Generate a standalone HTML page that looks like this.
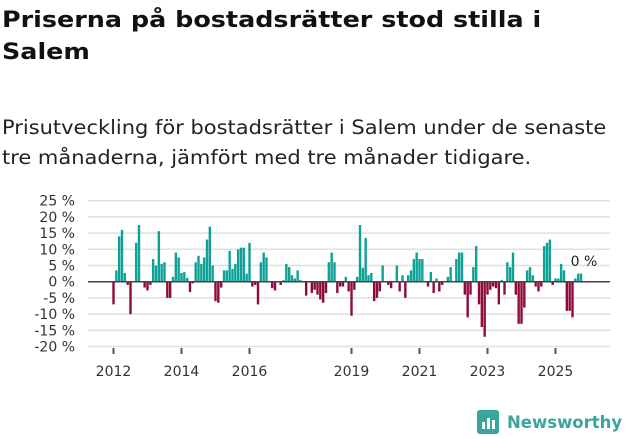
<!DOCTYPE html>
<html><head><meta charset="utf-8"><style>
body{margin:0;width:631px;height:439px;background:#fff;font-family:"DejaVu Sans",sans-serif;overflow:hidden;position:relative}
h1{position:absolute;left:2px;top:4px;margin:0;font-size:22.5px;line-height:32px;font-weight:bold;color:#111;white-space:nowrap;transform:scaleX(1.13);transform-origin:0 0}
.sub{position:absolute;left:2px;top:113px;margin:0;font-size:19.5px;line-height:30px;color:#222;white-space:nowrap;transform:scaleX(1.075);transform-origin:0 0}
svg{position:absolute;left:0;top:0}
</style></head><body>
<h1>Priserna på bostadsrätter stod stilla i<br>Salem</h1>
<p class="sub">Prisutveckling för bostadsrätter i Salem under de senaste<br>tre månaderna, jämfört med tre månader tidigare.</p>
<svg id="c" width="631" height="439"></svg>
<script>
const values=[-7,3.5,14,16,2.7,-1,-10,0,12,17.5,0,-1.8,-2.7,-1,7,5,15.6,5.5,6,-5,-5,1.5,9,7.5,2.7,3,1.2,-3.2,-0.5,6,8,5.5,7.5,13,17,5,-6,-6.5,-1.8,3.5,3.5,9.5,4,5.5,10,10.5,10.5,2.5,12,-1.5,-1,-7,6,9,7.5,
0,-2,-2.7,0,-1,0.5,5.5,4.5,2,1,3.5,0.5,0,-4.3,0,-3.5,-2.5,-4,-5.5,-6.5,-3.5,6,9,6,-3.5,-1.5,-1.5,1.5,-3,-10.5,-2.5,1.5,17.5,4.3,13.5,2,2.7,-6,-5,-3,5,0,-1,-2,0,5,-3,2,-5,2,3.5,7,9,7,7,0,-1.5,3,-3.5,1,-3,
-1,0,1.5,4.5,0,7,9,9,-4,-11,-4,4.5,11,-7,-14,-17,-4,-2.5,-1.5,-2,-7,0.5,-4,6,4.5,9,-4,-13,-13,-8,3.5,4.5,2,-1.5,-3,-1.5,11,12,13,-1,1,1,5.5,3.5,-9,-9,-11,1,2.5,2.5];
const startYear=2012;
const yTicks=[25,20,15,10,5,0,-5,-10,-15,-20];
const xTickYears=[2012,2014,2016,2019,2021,2023,2025];
const NS="http://www.w3.org/2000/svg",svg=document.getElementById('c');
const y=v=>281.7-v*3.24;
const x=t=>113.5+(t-startYear)*34;
function mk(tag,a,p){const e=document.createElementNS(NS,tag);for(const k in a)e.setAttribute(k,a[k]);(p||svg).appendChild(e);return e;}
yTicks.forEach(t=>{
 const g=mk('line',{x1:88,x2:610,y1:y(t),y2:y(t),stroke:'#e0e0e0','stroke-width':1.5});
 
 
 const l=mk('text',{x:75,y:y(t)+5,'text-anchor':'end','font-size':14,fill:'#333'});
 l.textContent=t+' %';
 
 
});
values.forEach((v,i)=>{
 const cx=x(startYear+i/12);
 const r=mk('rect',{x:cx-1.2,width:2.4,y:Math.min(y(v),y(0)),height:Math.abs(y(v)-y(0)),fill:v>=0?'#0ea196':'#8e0a3c'});
 
 
});
const z=mk('line',{x1:88,x2:610,y1:y(0),y2:y(0),stroke:'#444','stroke-width':1.5});


xTickYears.forEach(yr=>{
 const tk=mk('line',{x1:x(yr),x2:x(yr),y1:348,y2:354,stroke:'#555','stroke-width':2});
 
 
 const l=mk('text',{x:x(yr),y:376,'text-anchor':'middle','font-size':14,fill:'#333'});
 l.textContent=yr;
 
 
});
const ann=mk('text',{x:584,y:266,'text-anchor':'middle','font-size':14,fill:'#222'});
ann.textContent='0 %';


</script>
<svg width="631" height="439" style="position:absolute;left:0;top:0">
<rect x="477" y="410" width="22" height="24" rx="3" fill="#3aa59b"/>
<rect x="482" y="422" width="3" height="7" fill="#fff"/><rect x="487" y="418" width="3" height="11" fill="#fff"/><rect x="492" y="420" width="3" height="9" fill="#fff"/>
<text x="507" y="428" font-size="16.5" font-weight="bold" fill="#3aa59b" font-family="DejaVu Sans,sans-serif">Newsworthy</text>
</svg>
</body></html>
